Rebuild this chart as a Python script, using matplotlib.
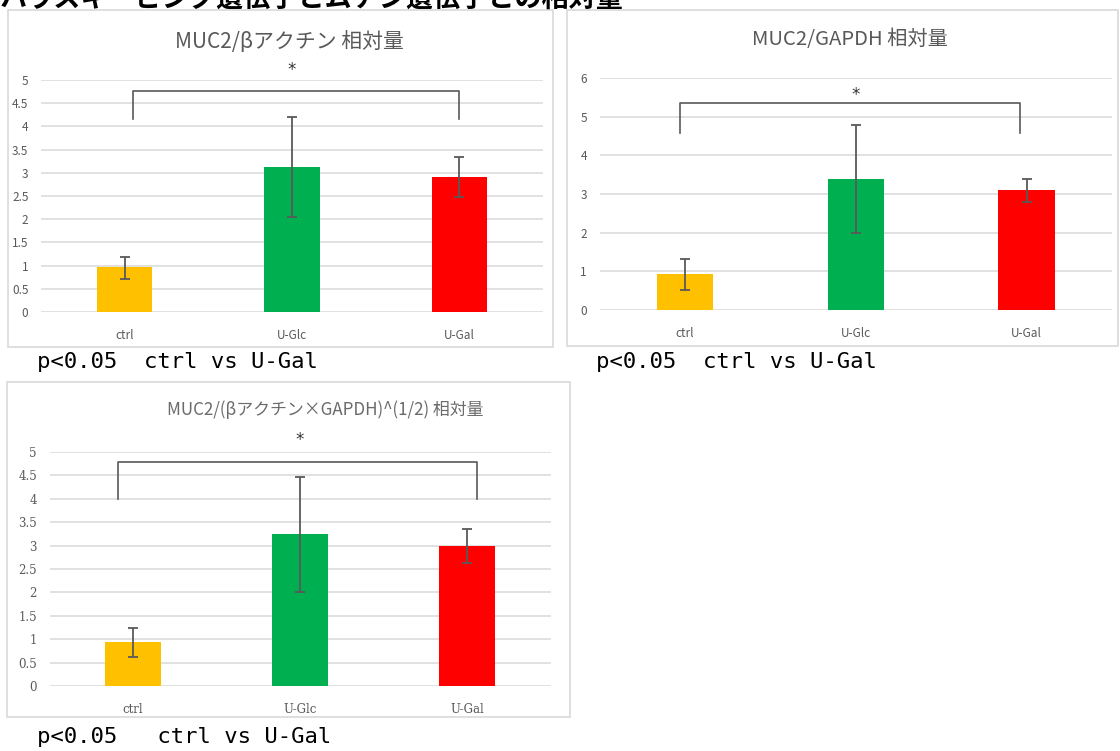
import matplotlib
matplotlib.use("Agg")
import matplotlib.pyplot as plt
from matplotlib.patches import Rectangle

plt.rcParams['font.family'] = ['Noto Sans CJK JP', 'DejaVu Sans']

# ---------------- data ----------------
categories = ["ctrl", "U-Glc", "U-Gal"]
bar_colors = ["#FFC000", "#00B050", "#FF0000"]

title1 = "MUC2/βアクチン 相対量"
means1 = [0.96, 3.12, 2.90]
err_lo1 = [0.72, 2.05, 2.47]
err_hi1 = [1.18, 4.20, 3.35]
yticks1 = [0, 0.5, 1, 1.5, 2, 2.5, 3, 3.5, 4, 4.5, 5]
ytick_labels1 = ["0", "0.5", "1", "1.5", "2", "2.5", "3", "3.5", "4", "4.5", "5"]

title2 = "MUC2/GAPDH 相対量"
means2 = [0.93, 3.40, 3.10]
err_lo2 = [0.52, 2.00, 2.80]
err_hi2 = [1.32, 4.78, 3.40]
yticks2 = [0, 1, 2, 3, 4, 5, 6]
ytick_labels2 = ["0", "1", "2", "3", "4", "5", "6"]

title3 = "MUC2/(βアクチン×GAPDH)^(1/2) 相対量"
means3 = [0.94, 3.24, 3.00]
err_lo3 = [0.62, 2.00, 2.63]
err_hi3 = [1.25, 4.47, 3.36]
yticks3 = yticks1
ytick_labels3 = ytick_labels1

# significance brackets: (bracket top, leg bottom, star y)
sig1 = (4.77, 4.15, 5.22)
sig2 = (5.36, 4.59, 5.55)
sig3 = (4.79, 3.99, 5.25)

main_title = "ハウスキーピング遺伝子とムチン遺伝子との相対量"
note1 = "p<0.05  ctrl vs U-Gal"
note2 = "p<0.05  ctrl vs U-Gal"
note3 = "p<0.05   ctrl vs U-Gal"

# ---------------- layout ----------------
W, H = 1120, 751
fig = plt.figure(figsize=(W / 100, H / 100), dpi=100)
fig.patch.set_facecolor("white")


def fx(x):
    return x / W


def fy(y):
    return 1 - y / H


def px_axes(left, right, top, bottom):
    return fig.add_axes([fx(left), fy(bottom), fx(right) - fx(left), (bottom - top) / H])


def box(left, top, right, bottom):
    fig.patches.append(Rectangle((fx(left), fy(bottom)), fx(right) - fx(left), (bottom - top) / H,
                                 transform=fig.transFigure, fill=False,
                                 edgecolor="#d9d9d9", lw=1.2, zorder=0))


GRAY = "#595959"


def panel(ax, means, lo, hi, yticks, ylabels, ymax, sig, bx, tick_family=None):
    x = list(range(len(categories)))
    ax.set_xlim(-0.5, 2.5)
    ax.set_ylim(0, ymax)
    ax.bar(x, means, width=0.33, color=bar_colors, zorder=3)
    yerr = [[m - l for m, l in zip(means, lo)], [h - m for m, h in zip(means, hi)]]
    ax.errorbar(x, means, yerr=yerr, fmt="none", ecolor=GRAY, elinewidth=1.3,
                capsize=3.5, capthick=1.3, zorder=4)
    ax.set_yticks(yticks)
    ax.set_yticklabels(ylabels)
    ax.set_xticks(x)
    ax.set_xticklabels(categories)
    for sp in ax.spines.values():
        sp.set_visible(False)
    ax.grid(axis="y", color="#d9d9d9", lw=1.1, zorder=0)
    ax.set_axisbelow(True)
    ax.tick_params(length=0, colors=GRAY, labelsize=8.5)
    ax.tick_params(axis="y", pad=9)
    ax.tick_params(axis="x", pad=12)
    if tick_family:
        for t in ax.get_xticklabels() + ax.get_yticklabels():
            t.set_family(tick_family)
    top, leg, stary = sig
    x0, x1 = bx
    ax.plot([x0, x0, x1, x1], [leg, top, top, leg], color=GRAY, lw=1.2,
            clip_on=False, zorder=5)
    ax.text(1, stary, "*", ha="center", va="center", fontsize=12, color="#333333",
            family="DejaVu Sans", clip_on=False)


# panel 1
box(8, 10, 553, 347)
ax1 = px_axes(41, 543, 80, 312)
panel(ax1, means1, err_lo1, err_hi1, yticks1, ytick_labels1, 5, sig1, (0.05, 2.0))
fig.text(fx(289), fy(42), title1, ha="center", va="center", fontsize=15, color=GRAY)

# panel 2
box(567, 10, 1118, 346)
ax2 = px_axes(599.5, 1112, 78, 310)
panel(ax2, means2, err_lo2, err_hi2, yticks2, ytick_labels2, 6, sig2, (-0.03, 1.96))
fig.text(fx(850), fy(40), title2, ha="center", va="center", fontsize=14.6, color=GRAY)

# panel 3
box(7, 382, 570, 717)
ax3 = px_axes(49.5, 550.5, 452, 686)
panel(ax3, means3, err_lo3, err_hi3, yticks3, ytick_labels3, 5, sig3, (-0.09, 2.06),
      tick_family="DejaVu Serif")
fig.text(fx(325), fy(410), title3, ha="center", va="center", fontsize=12.2, color="#6b6b6b")

# notes
mono = ["DejaVu Sans Mono"]
fig.text(fx(37), fy(362), note1, ha="left", va="center", fontsize=16, family=mono, color="black")
fig.text(fx(596), fy(362), note2, ha="left", va="center", fontsize=16, family=mono, color="black")
fig.text(fx(37), fy(737), note3, ha="left", va="center", fontsize=16, family=mono, color="black")

# main title, clipped at the very top edge as in the reference
fig.text(fx(0), fy(8), main_title, ha="left", va="baseline", fontsize=19.5,
         fontweight="bold", color="black")

fig.savefig("out.png", dpi=100, facecolor="white")
